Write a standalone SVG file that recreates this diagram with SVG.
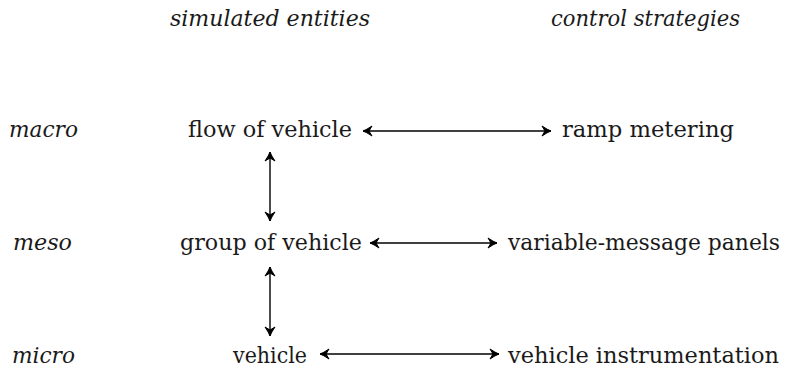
<svg xmlns="http://www.w3.org/2000/svg" width="788" height="369" viewBox="0 0 788 369">
<defs>
<style>
text{font-size:22px;fill:#1a1a1a;font-family:'DejaVu Serif','Liberation Serif',serif}
.it{font-style:italic}
.c{fill:none;stroke:#000;stroke-width:1.4}
</style>
<marker id="ah" markerUnits="userSpaceOnUse" viewBox="-11 -7 13 14" refX="0" refY="0" markerWidth="13" markerHeight="14" orient="auto-start-reverse">
<path d="M-9,-5 Q-3.5,-1.2 0,0 Q-3.5,1.2 -9,5 L-6,0 Z" fill="#000" stroke="#000" stroke-width="1" stroke-linejoin="round"/>
</marker>
</defs>
<rect width="788" height="369" fill="#fff"/>
<g id="headers">
<text class="it" x="170" y="26" textLength="200" lengthAdjust="spacingAndGlyphs">simulated entities</text>
<text class="it" x="551" y="26" textLength="189" lengthAdjust="spacingAndGlyphs">control strategies</text>
</g>
<g id="levels">
<text class="it" x="9" y="137" textLength="69" lengthAdjust="spacingAndGlyphs">macro</text>
<text class="it" x="13" y="250" textLength="59" lengthAdjust="spacingAndGlyphs">meso</text>
<text class="it" x="12" y="363" textLength="63" lengthAdjust="spacingAndGlyphs">micro</text>
</g>
<g id="flow"><text x="188" y="137" textLength="164" lengthAdjust="spacingAndGlyphs">flow of vehicle</text></g>
<g id="ramp"><text x="562" y="137" textLength="172" lengthAdjust="spacingAndGlyphs">ramp metering</text></g>
<g id="group"><text x="180" y="250" textLength="182" lengthAdjust="spacingAndGlyphs">group of vehicle</text></g>
<g id="panels"><text x="508" y="250" textLength="272" lengthAdjust="spacingAndGlyphs">variable-message panels</text></g>
<g id="vehicle"><text x="233" y="363" textLength="74" lengthAdjust="spacingAndGlyphs">vehicle</text></g>
<g id="instr"><text x="508" y="363" textLength="271" lengthAdjust="spacingAndGlyphs">vehicle instrumentation</text></g>
<g id="connectors">
<line class="c" x1="363" y1="131" x2="551" y2="131" marker-start="url(#ah)" marker-end="url(#ah)"/>
<line class="c" x1="370" y1="243" x2="497" y2="243" marker-start="url(#ah)" marker-end="url(#ah)"/>
<line class="c" x1="320" y1="354" x2="499" y2="354" marker-start="url(#ah)" marker-end="url(#ah)"/>
<line class="c" x1="270" y1="152" x2="270" y2="221" marker-start="url(#ah)" marker-end="url(#ah)"/>
<line class="c" x1="270" y1="267" x2="270" y2="336" marker-start="url(#ah)" marker-end="url(#ah)"/>
</g>
</svg>
